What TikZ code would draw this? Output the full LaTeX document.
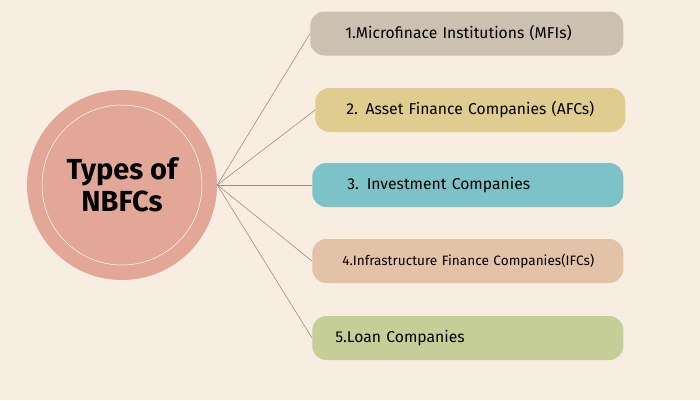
\documentclass[tikz,border=0pt]{standalone}
\usepackage{fontspec}
\setmainfont{Fira Sans}
\usetikzlibrary{positioning}
\definecolor{bgcream}{HTML}{F8EDE1}
\definecolor{hubpink}{HTML}{E2A797}
\definecolor{linkbrown}{HTML}{A98A7A}
\definecolor{mfigrey}{HTML}{CCC0B1}
\definecolor{afcsand}{HTML}{DFCC8F}
\definecolor{invteal}{HTML}{7DC2C6}
\definecolor{ifcpeach}{HTML}{E3C3A8}
\definecolor{loanolive}{HTML}{C6CE98}

\begin{document}
\begin{tikzpicture}[x=1pt,y=-1pt,semithick]
  \tikzstyle{hub}=[circle,fill=hubpink,minimum size=190pt,inner sep=0pt,
                   font=\bfseries\fontsize{29}{32}\selectfont,align=center]
  \tikzstyle{kind}=[rectangle,rounded corners=14pt,minimum height=44pt,
                    anchor=west,align=left,inner ysep=0pt,
                    font=\fontsize{15.7}{18}\selectfont]
  \tikzstyle{link}=[draw=linkbrown,line width=0.6pt]

  \fill[bgcream] (0,0) rectangle (700,400);
  \useasboundingbox (0,0) rectangle (700,400);

  \node[hub] (H) at (122,185) {Types of\\NBFCs};
  \draw[white,line width=0.5pt] (H.center) circle (80pt);

  \node[kind,fill=mfigrey,inner xsep=35pt,text width=243pt]  (M) at (310,33.5) {1.Microfinace Institutions (MFIs)};
  \node[kind,fill=afcsand,inner xsep=31pt,text width=248pt]  (A) at (315,110) {2. Asset Finance Companies (AFCs)};
  \node[kind,fill=invteal,inner xsep=35pt,text width=241pt]  (I) at (312,185) {3. Investment Companies};
  \node[kind,fill=ifcpeach,inner xsep=30pt,text width=251pt,
        font=\fontsize{13.6}{16}\selectfont] (F) at (312,261) {\mbox{4.Infrastructure Finance Companies(IFCs)}};
  \node[kind,fill=loanolive,inner xsep=23pt,text width=265pt] (L) at (312,338) {5.Loan Companies};

  \path[link] (H.east) edge (M.west)
              (H.east) edge (A.west)
              (H.east) edge (I.west)
              (H.east) edge (F.west)
              (H.east) edge (L.west);
\end{tikzpicture}
\end{document}
